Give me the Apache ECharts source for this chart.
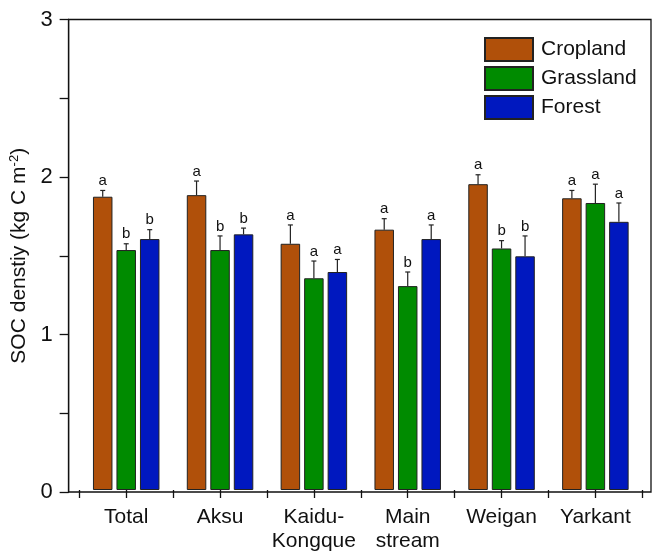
<!DOCTYPE html>
<html>
<head>
<meta charset="utf-8">
<script src="https://cdn.jsdelivr.net/npm/echarts@6/dist/echarts.min.js"></script>
<style>
  html, body { margin: 0; padding: 0; background: #fff; }
  #chart { width: 654px; height: 553px; }
</style>
</head>
<body>
<div id="chart"></div>
<script>
// Regions (x categories)
const categories = ['Total', 'Aksu', 'Kaidu-\nKongque', 'Main\nstream', 'Weigan', 'Yarkant'];

// Mean SOC density (kg C m-2) per land use
const cropland  = [1.87, 1.88, 1.57, 1.66, 1.95, 1.86];
const grassland = [1.53, 1.53, 1.35, 1.30, 1.54, 1.83];
const forest    = [1.60, 1.63, 1.39, 1.60, 1.49, 1.71];

// Upper error bar lengths
const croplandErr  = [0.04, 0.09, 0.12, 0.07, 0.06, 0.05];
const grasslandErr = [0.04, 0.09, 0.11, 0.09, 0.05, 0.12];
const forestErr    = [0.06, 0.04, 0.08, 0.09, 0.13, 0.12];

// Significance letters
const croplandSig  = ['a', 'a', 'a', 'a', 'a', 'a'];
const grasslandSig = ['b', 'b', 'a', 'b', 'b', 'a'];
const forestSig    = ['b', 'b', 'a', 'a', 'b', 'a'];

// Y ticks
const yTicks = [0, 1, 2, 3];

const FONT = 'Liberation Sans, Arial, sans-serif';
const BAR_W = 19.5;
const BAR_GAP = 4;

const seriesDefs = [
  { name: 'Cropland',  values: cropland,  err: croplandErr,  sig: croplandSig,  color: '#B0500A' },
  { name: 'Grassland', values: grassland, err: grasslandErr, sig: grasslandSig, color: '#008B00' },
  { name: 'Forest',    values: forest,    err: forestErr,    sig: forestSig,    color: '#0018BF' }
];

const barSeries = seriesDefs.map(d => ({
  name: d.name,
  type: 'bar',
  xAxisIndex: 1,
  yAxisIndex: 1,
  barWidth: BAR_W,
  barGap: (BAR_GAP / BAR_W * 100) + '%',
  data: d.values,
  itemStyle: { color: d.color, borderColor: '#222', borderWidth: 1 },
  emphasis: { disabled: true },
  animation: false
}));

// Upper error bars with caps and letters above
const errSeries = seriesDefs.map((d, s) => ({
  name: d.name + ' error',
  type: 'custom',
  xAxisIndex: 1,
  yAxisIndex: 1,
  z: 5,
  animation: false,
  data: d.values.map((v, i) => [i, v, d.err[i], d.sig[i]]),
  renderItem: function (params, api) {
    const base = api.coord([api.value(0), api.value(1)]);
    const top = api.coord([api.value(0), api.value(1) + api.value(2)]);
    const x = base[0] + (s - 1) * (BAR_W + BAR_GAP);
    const lineStyle = { stroke: '#222', lineWidth: 1.2 };
    return {
      type: 'group',
      children: [
        { type: 'line', shape: { x1: x, y1: base[1], x2: x, y2: top[1] }, style: lineStyle },
        { type: 'line', shape: { x1: x - 2.5, y1: top[1], x2: x + 2.5, y2: top[1] }, style: lineStyle },
        {
          type: 'text',
          x: x, y: top[1] - 2,
          style: {
            text: api.value(3),
            fill: '#111',
            font: '15px ' + FONT,
            align: 'center',
            verticalAlign: 'bottom'
          }
        }
      ]
    };
  }
}));

const option = {
  backgroundColor: '#fff',
  animation: false,
  grid: [
    { left: 67.3, right: 3, top: 19.5, bottom: 61, show: true, borderColor: '#111', borderWidth: 1.3, backgroundColor: 'transparent' },
    { left: 79.3, right: 11.7, top: 19.5, bottom: 61 }
  ],
  legend: {
    data: ['Cropland', 'Grassland', 'Forest'],
    orient: 'vertical',
    left: 484,
    top: 37,
    padding: 0,
    itemWidth: 48,
    itemHeight: 23,
    itemGap: 4,
    icon: 'rect',
    selectedMode: false,
    textStyle: { fontSize: 21, lineHeight: 23, color: '#111', fontFamily: FONT, padding: [0, 0, 0, 3] }
  },
  xAxis: [
    { gridIndex: 0, type: 'value', min: 0, max: 1, show: false },
    {
      gridIndex: 1, type: 'category', data: categories, boundaryGap: true,
      axisLine: { show: false },
      axisTick: { show: true, interval: 0, length: 8, inside: false, lineStyle: { color: '#111', width: 1.3 } },
      axisLabel: { show: false },
      splitLine: { show: false }
    },
    {
      gridIndex: 1, type: 'category', data: categories, boundaryGap: true, position: 'bottom',
      axisLine: { show: false },
      axisTick: { show: true, alignWithLabel: true, interval: 0, length: 8, inside: false, lineStyle: { color: '#111', width: 1.3 } },
      axisLabel: { show: true, interval: 0, margin: 15, fontSize: 21, lineHeight: 24, color: '#111', fontFamily: FONT },
      splitLine: { show: false }
    }
  ],
  yAxis: [
    {
      gridIndex: 0, type: 'value', min: 0, max: 3, interval: 0.5,
      axisLine: { show: true, lineStyle: { color: '#111', width: 1.3 } },
      axisTick: { show: true, length: 9, inside: false, lineStyle: { color: '#111', width: 1.3 } },
      axisLabel: {
        margin: 16, fontSize: 22, color: '#111', fontFamily: FONT,
        formatter: v => (yTicks.indexOf(v) >= 0 ? String(v) : '')
      },
      splitLine: { show: false },
      name: '{a|SOC denstiy (kg C m}{s|-2}{a|)}',
      nameLocation: 'middle',
      nameGap: 37,
      nameTextStyle: {
        rich: {
          a: { fontSize: 21, color: '#111', fontFamily: FONT },
          s: { fontSize: 13, color: '#111', fontFamily: FONT, padding: [0, 0, 9, 0] }
        }
      }
    },
    { gridIndex: 1, type: 'value', min: 0, max: 3, show: false }
  ],
  series: [...barSeries, ...errSeries]
};

const chart = echarts.init(document.getElementById('chart'), null, { renderer: 'canvas' });
chart.setOption(option);
</script>
</body>
</html>
